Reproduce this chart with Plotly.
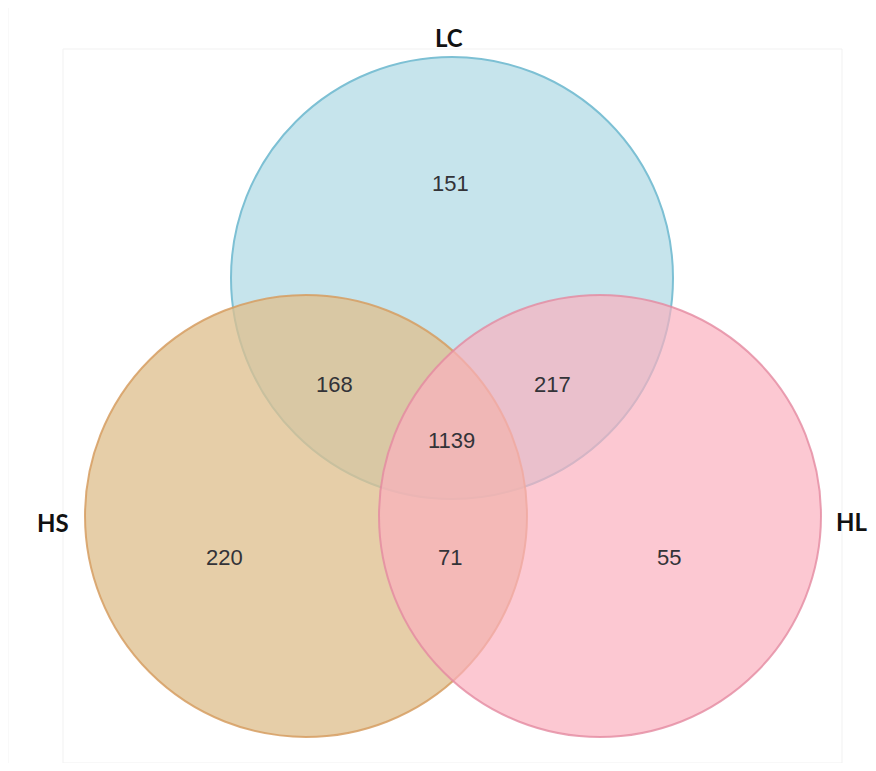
import plotly.graph_objects as go

# ---- data ----
set_names = ["LC", "HS", "HL"]
region_labels = ["LC only", "HS only", "HL only", "LC∩HS", "LC∩HL", "HS∩HL", "LC∩HS∩HL"]
region_counts = [151, 220, 55, 168, 217, 71, 1139]

# ---- layout (pixel geometry, in window coordinates) ----
W, H = 876, 771
PAGE_MARGIN = 8  # default body margin of the html page
R = 221
centers = {"LC": (452, 278), "HS": (306, 516), "HL": (600, 516)}
fills = {"LC": "rgba(198,228,236,1)", "HS": "rgba(222,191,142,0.77)", "HL": "rgba(251,175,190,0.69)"}
lines = {"LC": "rgba(125,192,212,1)", "HS": "rgba(214,158,98,0.85)", "HL": "rgba(228,138,160,0.8)"}
name_pos = {"LC": (449, 37), "HS": (53, 522), "HL": (851, 521)}
count_pos = [(450, 183), (224, 557), (669, 557), (334, 384), (552, 384), (450, 557), (451, 440)]

fig = go.Figure()
fig.add_trace(go.Scatter(x=[0, W], y=[0, H], mode="markers", marker=dict(opacity=0),
                         hoverinfo="skip", showlegend=False))

# faint frames
fig.add_shape(type="rect", x0=8, y0=7, x1=W + 5, y1=H + 5, line=dict(color="#f3f3f3", width=1), layer="below")
fig.add_shape(type="rect", x0=63, y0=49, x1=842, y1=763, line=dict(color="#f1f1f1", width=1), layer="below")

for name in set_names:
    cx, cy = centers[name]
    fig.add_shape(type="circle", x0=cx - R, x1=cx + R, y0=cy - R, y1=cy + R,
                  fillcolor=fills[name], line=dict(color=lines[name], width=2), layer="above")

for name in set_names:
    x, y = name_pos[name]
    fig.add_annotation(x=x, y=y, text="<b>%s</b>" % name, showarrow=False,
                       font=dict(family="Lato, Open Sans, sans-serif", size=24, color="#111111"))

for (x, y), c in zip(count_pos, region_counts):
    fig.add_annotation(x=x, y=y, text=str(c), showarrow=False,
                       font=dict(family="Liberation Sans, Arial, sans-serif", size=22, color="#333338"))

m = PAGE_MARGIN
fig.update_xaxes(range=[m, W - m], visible=False, fixedrange=True)
fig.update_yaxes(range=[H - m, m], visible=False, fixedrange=True)
fig.update_layout(width=W - 2 * m, height=H - 2 * m, margin=dict(l=0, r=0, t=0, b=0),
                  plot_bgcolor="white", paper_bgcolor="white", showlegend=False)

fig.write_html("out.html")
